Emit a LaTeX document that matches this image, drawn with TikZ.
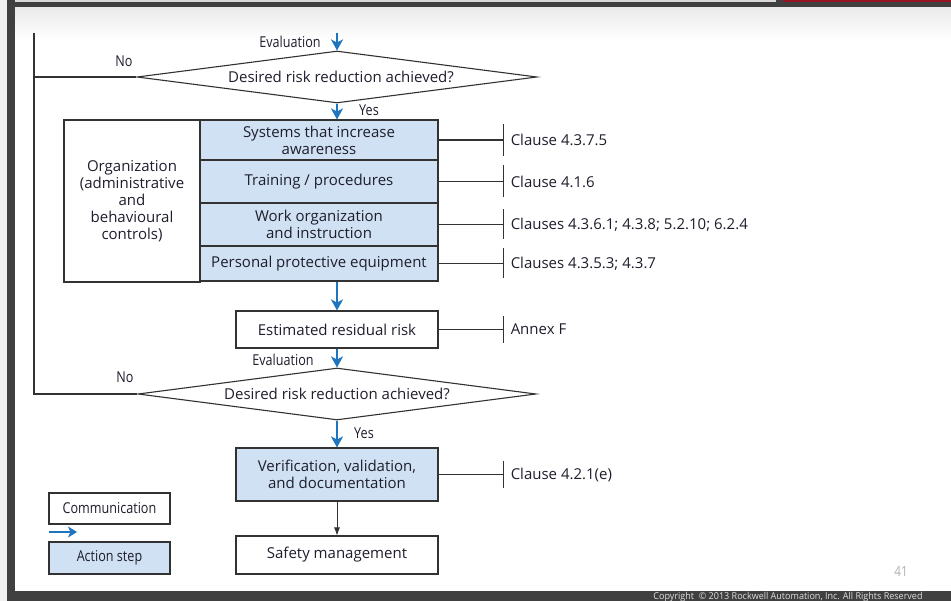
\documentclass[tikz,border=0pt]{standalone}
\usepackage{fontspec}
\setmainfont{Open Sans}
\newfontfamily\condfont[FakeStretch=0.84]{Open Sans}
\newfontfamily\copyfont[FakeStretch=0.95]{Open Sans}
\usetikzlibrary{shapes.geometric,arrows.meta,calc}
\definecolor{bluefill}{RGB}{207,225,242}
\definecolor{arrowblue}{RGB}{30,117,190}
\definecolor{linegray}{RGB}{50,50,50}
\definecolor{txt}{RGB}{30,30,45}
\definecolor{framedark}{RGB}{64,64,64}
\definecolor{framered}{RGB}{150,20,35}
\newcommand\mainfnt{\fontsize{15}{17}\selectfont}
\newcommand\labfnt{\condfont\fontsize{15}{17}\selectfont}
\begin{document}
\begin{tikzpicture}[x=1pt,y=-1pt,
  conn/.style={draw=linegray, line width=1.1pt},
  box/.style={draw=linegray, line width=1.1pt, fill=white, minimum width=202pt, inner sep=0pt, align=center, font=\mainfnt, text=txt},
  act/.style={box, fill=bluefill},
  rowbox/.style={act, minimum width=238pt},
  dia/.style={diamond, draw=linegray, line width=1.1pt, aspect=7.7, minimum width=400pt, minimum height=52pt, inner sep=0pt, font=\mainfnt, text=txt},
  lab/.style={font=\labfnt, text=txt, inner sep=0pt},
  clause/.style={font=\mainfnt, text=txt, inner sep=0pt, anchor=west},
  barrow/.style={draw=arrowblue, line width=2pt, -{Stealth[length=11pt,width=12pt,inset=3pt]}},
]
\useasboundingbox (0,0) rectangle (951,601);
\clip (0,0) rectangle (951,601);
% frame of the slide
\fill[white] (0,0) rectangle (951,601);
\fill[gray!12] (0,0) rectangle (7,601);
\fill[framedark] (7,0) rectangle (951,8);
\fill[framedark] (7,0) rectangle (15,601);
\fill[framedark] (7,591) rectangle (951,601);
\fill[gray!30] (15,0) rectangle (776,2.5);
\fill[framered] (783,0) rectangle (951,2);
\shade[top color=gray!16, bottom color=white] (15,8) rectangle (951,40);
\node[font=\copyfont\fontsize{9.5}{11}\selectfont, text=gray!25, anchor=base, inner sep=0pt] (copy) at (788,599) {Copyright\ \ © 2013 Rockwell Automation, Inc. All Rights Reserved};
\node[font=\condfont\fontsize{14}{16}\selectfont, text=gray!60] (pg) at (901,571) {41};

% decisions
\node[dia] (d1) at (337,77) {\hspace*{8pt}Desired risk reduction achieved?};
\node[dia, minimum width=398pt] (d2) at (337,394) {Desired risk reduction achieved?};

% organization block
\node[box, minimum width=136pt, minimum height=162pt] (org) at (132,201) {Organization\\(administrative\\and\\behavioural\\controls)};
\node[rowbox, minimum height=40pt] (r1) at (319,140) {Systems that increase\\awareness};
\node[rowbox, minimum height=43pt] (r2) at (319,181.5) {Training / procedures};
\node[rowbox, minimum height=43pt] (r3) at (319,224.5) {Work organization\\and instruction};
\node[rowbox, minimum height=35pt] (r4) at (319,263.5) {Personal protective equipment};

\node[box, minimum height=37pt] (est) at (337,329.5) {Estimated residual risk};
\node[act, minimum height=53pt] (ver) at (337,474.5) {Verification, validation,\\and documentation};
\node[box, minimum height=38pt] (saf) at (337,555) {Safety management};

% legend
\node[box, minimum width=121pt, minimum height=31pt, font=\labfnt] (comm) at (109.5,508.5) {Communication};
\node[act, minimum width=121pt, minimum height=32pt, font=\labfnt] (actn) at (109.5,558) {Action step};
\coordinate (la1) at (49,532);
\coordinate (la2) at (77,532);
\draw[draw=arrowblue, line width=2pt, -{Stealth[length=9pt,width=11pt,inset=2.5pt]}] (la1) -- (la2);

% labels
\node[lab] (ev1) at (290,42) {Evaluation};
\node[lab] (yes1) at (369,110) {Yes};
\node[lab] (no1) at (124,61) {No};
\node[lab] (ev2) at (283,360) {Evaluation};
\node[lab] (no2) at (125,377) {No};
\node[lab] (yes2) at (364,433) {Yes};

% feedback lines
\coordinate (lt) at (34,33);
\coordinate (lb) at (34,394);
\coordinate (top) at (337,33);
\draw[conn] (lt) -- (lb) -- (d2.west);
\draw[conn] (d1.west) -- (d1.west -| lt);

% flow arrows
\draw[barrow] (top) -- (d1.north);
\draw[barrow] (d1.south) -- (d1.south |- r1.north);
\draw[barrow] (d1.south |- r4.south) -- (est.north);
\draw[barrow] (est.south) -- (d2.north);
\draw[barrow] (d2.south) -- (ver.north);
\draw[draw=linegray, line width=0.8pt, -{Latex[length=8pt,width=6pt]}] (ver.south) -- (saf.north);

% clause references
\path (r1.east) ++(65,0) coordinate (k1);
\path (r2.east) ++(65,0) coordinate (k2);
\path (r3.east) ++(65,0) coordinate (k3);
\path (r4.east) ++(65,0) coordinate (k4);
\path (est.east) ++(65,0) coordinate (k5);
\path (ver.east) ++(65,0) coordinate (k6);
\draw[conn] (r1.east) -- (k1);
\draw[conn] (r2.east) -- (k2);
\draw[conn] (r3.east) -- (k3);
\draw[conn] (r4.east) -- (k4);
\draw[conn] (est.east) -- (k5);
\draw[conn] (ver.east) -- (k6);
\draw[conn] ([yshift=16pt]k1) -- ([yshift=-16pt]k1);
\draw[conn] ([yshift=16pt]k2) -- ([yshift=-16pt]k2);
\draw[conn] ([yshift=15pt]k3) -- ([yshift=-15pt]k3);
\draw[conn] ([yshift=15pt]k4) -- ([yshift=-15pt]k4);
\draw[conn] ([yshift=13.5pt]k5) -- ([yshift=-13.5pt]k5);
\draw[conn] ([yshift=13.5pt]k6) -- ([yshift=-13.5pt]k6);
\node[clause] (c1) at ([xshift=7pt]k1) {Clause 4.3.7.5};
\node[clause] (c2) at ([xshift=7pt]k2) {Clause 4.1.6};
\node[clause] (c3) at ([xshift=7pt]k3) {Clauses 4.3.6.1; 4.3.8; 5.2.10; 6.2.4};
\node[clause] (c4) at ([xshift=7pt]k4) {Clauses 4.3.5.3; 4.3.7};
\node[clause] (c5) at ([xshift=7pt]k5) {Annex F};
\node[clause] (c6) at ([xshift=7pt]k6) {Clause 4.2.1(e)};
\end{tikzpicture}
\end{document}
